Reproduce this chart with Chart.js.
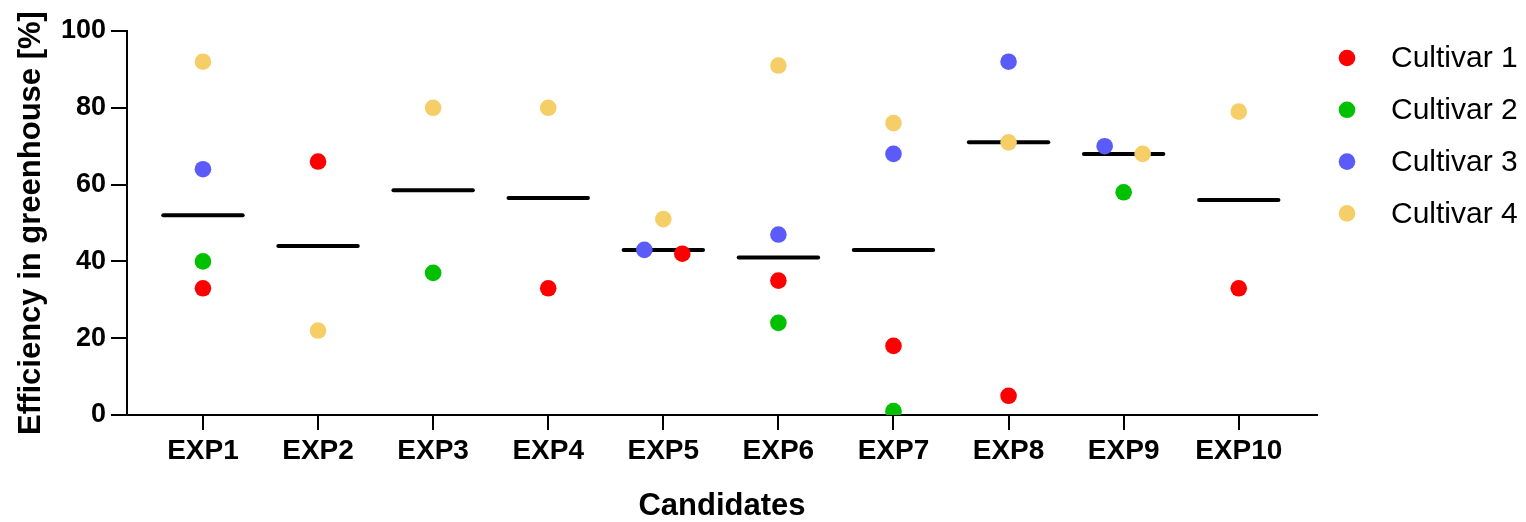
<!DOCTYPE html>
<html>
<head>
<meta charset="utf-8">
<script src="https://cdn.jsdelivr.net/npm/chart.js@4/dist/chart.umd.min.js"></script>
<style>
html,body{margin:0;padding:0;background:#fff;}
#wrap{width:1526px;height:522px;}
</style>
</head>
<body>
<div id="wrap"><canvas id="c" width="1526" height="522"></canvas></div>
<script>
// ---- data ----
const categories = ['EXP1','EXP2','EXP3','EXP4','EXP5','EXP6','EXP7','EXP8','EXP9','EXP10'];
const cultivar1 = [33, 66, null, 33, 42, 35, 18, 5, null, 33];
const cultivar2 = [40, null, 37, null, null, 24, 1, null, 58, null];
const cultivar3 = [64, null, null, null, 43, 47, 68, 92, 70, null];
const cultivar4 = [92, 22, 80, 80, 51, 91, 76, 71, 68, 79];
const means = [52, 44, 58.5, 56.5, 43, 41, 43, 71, 68, 56];
const yTicks = [0, 20, 40, 60, 80, 100];
const seriesNames = ['Cultivar 1','Cultivar 2','Cultivar 3','Cultivar 4'];
const seriesColors = ['#FF0000','#00C000','#5B5BFA','#F5CE68'];

const FONT = '"Liberation Sans", Arial, Helvetica, sans-serif';
const allSeries = [cultivar1, cultivar2, cultivar3, cultivar4];

// simple dodge so overlapping dots sit side by side (higher value to the left)
const DODGE = 0.165, CLOSE = 4.5, HALF = 0.345;
const offsets = allSeries.map(() => categories.map(() => 0));
categories.forEach((c, i) => {
  const pts = allSeries.map((s, k) => ({k, v: s[i]})).filter(p => p.v != null);
  for (let a = 0; a < pts.length; a++) {
    for (let b = a + 1; b < pts.length; b++) {
      if (Math.abs(pts[a].v - pts[b].v) < CLOSE) {
        const hi = pts[a].v >= pts[b].v ? pts[a] : pts[b];
        const lo = hi === pts[a] ? pts[b] : pts[a];
        offsets[hi.k][i] = -DODGE;
        offsets[lo.k][i] = DODGE;
      }
    }
  }
});

const datasets = [];
allSeries.forEach((s, k) => {
  datasets.push({
    label: seriesNames[k],
    data: s.map((v, i) => v == null ? null : {x: i + 1 + offsets[k][i], y: v}).filter(p => p),
    backgroundColor: seriesColors[k],
    borderWidth: 0,
    pointRadius: 8.3,
    pointHoverRadius: 8.3,
    showLine: false,
    order: 0
  });
});
means.forEach((m, i) => {
  datasets.push({
    label: 'mean',
    data: [{x: i + 1 - HALF, y: m}, {x: i + 1 + HALF, y: m}],
    showLine: true,
    borderColor: '#000',
    borderWidth: 4,
    borderCapStyle: 'round',
    pointRadius: 0,
    order: 1
  });
});

const legendPlugin = {
  id: 'customLegend',
  afterDraw(chart) {
    const ctx = chart.ctx;
    ctx.save();
    ctx.font = '30px ' + FONT;
    ctx.textBaseline = 'middle';
    ctx.textAlign = 'left';
    seriesNames.forEach((n, k) => {
      const y = 58 + k * 51.8;
      ctx.fillStyle = seriesColors[k];
      ctx.beginPath();
      ctx.arc(1347, y, 8.3, 0, Math.PI * 2);
      ctx.fill();
      ctx.fillStyle = '#000';
      ctx.fillText(n, 1391, y + 1);
    });
    ctx.restore();
  }
};

new Chart(document.getElementById('c'), {
  type: 'scatter',
  data: {datasets},
  plugins: [legendPlugin],
  options: {
    responsive: false,
    animation: false,
    devicePixelRatio: 1,
    layout: {padding: {left: 0, right: 209, top: 31, bottom: 0}},
    plugins: {legend: {display: false}, tooltip: {enabled: false}},
    scales: {
      x: {
        type: 'linear',
        min: 0.34,
        max: 10.68,
        afterBuildTicks: s => { s.ticks = categories.map((c, i) => ({value: i + 1})); },
        afterFit: s => { s.height = 107; },
        ticks: {
          callback: v => categories[Math.round(v) - 1] || '',
          font: {family: FONT, size: 28, weight: 'bold'},
          color: '#000',
          padding: 4,
          maxRotation: 0,
          autoSkip: false
        },
        grid: {drawOnChartArea: false, color: '#000', lineWidth: 2, tickLength: 15},
        border: {color: '#000', width: 2},
        title: {
          display: true,
          text: 'Candidates',
          font: {family: FONT, size: 31, weight: 'bold', lineHeight: 1},
          color: '#000',
          padding: {top: 0, bottom: 0}
        }
      },
      y: {
        min: 0,
        max: 100,
        afterBuildTicks: s => { s.ticks = yTicks.map(v => ({value: v})); },
        afterFit: s => { s.width = 127; },
        ticks: {
          font: {family: FONT, size: 27, weight: 'bold'},
          color: '#000',
          padding: 5
        },
        grid: {drawOnChartArea: false, color: '#000', lineWidth: 2, tickLength: 16},
        border: {color: '#000', width: 2},
        title: {
          display: true,
          text: 'Efficiency in greenhouse [%]',
          font: {family: FONT, size: 31, weight: 'bold', lineHeight: 1},
          color: '#000',
          padding: {top: 16, bottom: 0}
        }
      }
    }
  }
});
</script>
</body>
</html>
